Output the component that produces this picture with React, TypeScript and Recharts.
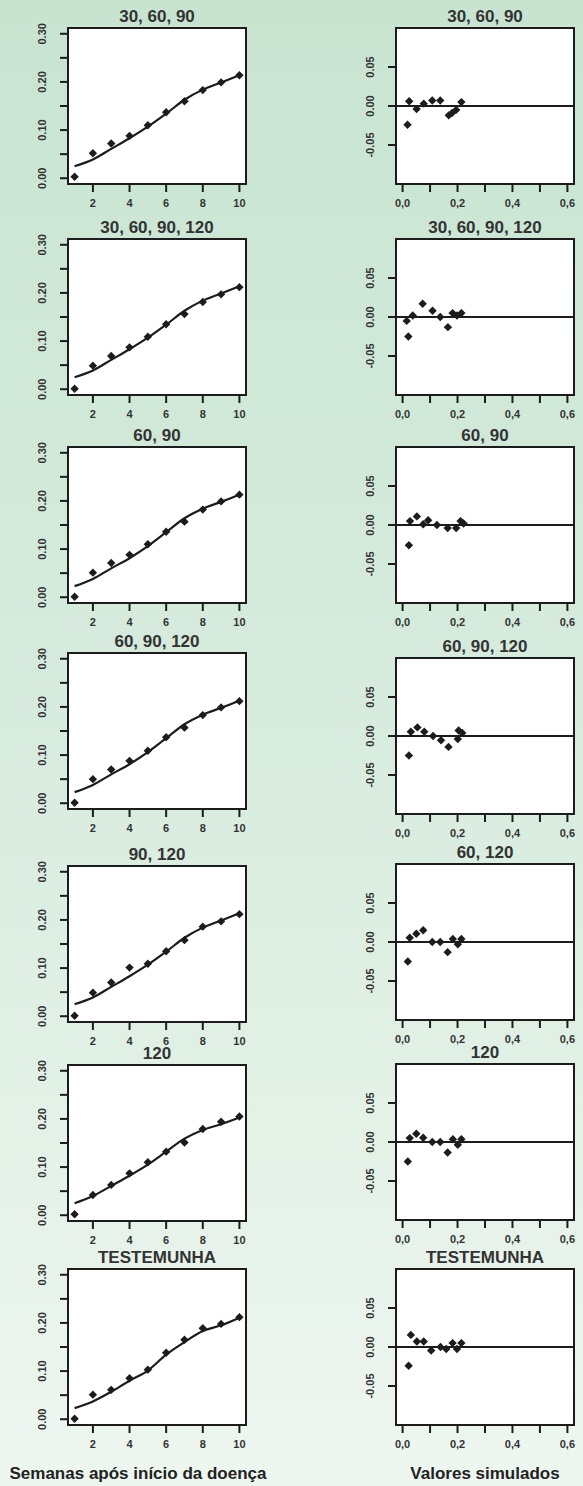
import React from 'react';
import { ComposedChart, Line, Scatter, XAxis, YAxis, ReferenceLine } from 'recharts';

// semanas (eixo x dos graficos da esquerda)
const weeks = [1, 2, 3, 4, 5, 6, 7, 8, 9, 10];

// observados e ajustados por tratamento
const obs_30_60_90 = [0.003, 0.052, 0.072, 0.088, 0.11, 0.137, 0.16, 0.183, 0.199, 0.214];
const obs_30_60_90_120 = [0.001, 0.049, 0.069, 0.087, 0.109, 0.135, 0.156, 0.181, 0.197, 0.212];
const obs_60_90 = [0.001, 0.051, 0.071, 0.088, 0.11, 0.136, 0.157, 0.182, 0.199, 0.213];
const obs_60_90_120 = [0.001, 0.05, 0.07, 0.088, 0.109, 0.137, 0.157, 0.183, 0.199, 0.212];
const obs_90_120 = [0.001, 0.049, 0.07, 0.101, 0.109, 0.135, 0.158, 0.186, 0.197, 0.212];
const obs_120 = [0.002, 0.042, 0.063, 0.087, 0.11, 0.132, 0.151, 0.179, 0.194, 0.205];
const obs_test = [0.001, 0.051, 0.061, 0.085, 0.103, 0.138, 0.165, 0.189, 0.198, 0.212];

const fit_a = [0.025, 0.039, 0.061, 0.083, 0.107, 0.134, 0.163, 0.184, 0.199, 0.214];
const fit_b = [0.023, 0.038, 0.06, 0.081, 0.106, 0.135, 0.164, 0.184, 0.198, 0.213];
const fit_120 = [0.025, 0.04, 0.061, 0.082, 0.105, 0.132, 0.159, 0.177, 0.189, 0.203];
const fit_test = [0.023, 0.037, 0.057, 0.08, 0.101, 0.134, 0.16, 0.183, 0.195, 0.211];

// residuos: valores simulados (x) e residuo (y)
const simX_30_60_90 = [0.018, 0.024, 0.051, 0.077, 0.108, 0.137, 0.168, 0.18, 0.195, 0.214];
const resY_30_60_90 = [-0.024, 0.006, -0.004, 0.003, 0.007, 0.007, -0.012, -0.009, -0.005, 0.005];
const simX_30_60_90_120 = [0.015, 0.021, 0.037, 0.073, 0.109, 0.137, 0.165, 0.182, 0.198, 0.214];
const resY_30_60_90_120 = [-0.005, -0.025, 0.002, 0.017, 0.008, 0.0, -0.013, 0.005, 0.002, 0.005];
const simX_60_90 = [0.023, 0.027, 0.052, 0.075, 0.093, 0.125, 0.164, 0.195, 0.211, 0.222];
const resY_60_90 = [-0.026, 0.005, 0.011, 0.001, 0.006, 0.0, -0.004, -0.004, 0.005, 0.002];
const simX_60_90_120 = [0.023, 0.03, 0.054, 0.079, 0.111, 0.14, 0.167, 0.201, 0.204, 0.217];
const resY_60_90_120 = [-0.025, 0.0055, 0.011, 0.0055, 0.0, -0.0055, -0.014, -0.004, 0.007, 0.004];
const simX_60_120 = [0.019, 0.026, 0.05, 0.075, 0.108, 0.137, 0.164, 0.183, 0.201, 0.214];
const resY_60_120 = [-0.025, 0.0055, 0.0105, 0.015, 0.0, 0.0, -0.013, 0.004, -0.003, 0.004];
const simX_120 = [0.019, 0.026, 0.05, 0.075, 0.108, 0.137, 0.164, 0.183, 0.201, 0.214];
const resY_120 = [-0.025, 0.005, 0.0105, 0.0055, 0.0, 0.0, -0.0135, 0.0035, -0.0035, 0.0035];
const simX_test = [0.022, 0.03, 0.052, 0.077, 0.104, 0.138, 0.159, 0.182, 0.198, 0.214];
const resY_test = [-0.024, 0.0155, 0.007, 0.007, -0.0045, 0.0, -0.0025, 0.005, -0.0025, 0.005];

const leftTicksX = [2, 4, 6, 8, 10];
const leftTicksY = [0, 0.05, 0.1, 0.15, 0.2, 0.25, 0.3];
const rightTicksX = [0, 0.1, 0.2, 0.3, 0.4, 0.5, 0.6];
const rightTicksY = [-0.05, 0, 0.05];

const INK = '#1c1c1c';
const TXT = '#333333';
const FONT = '"Liberation Sans", Arial, sans-serif';
const BOX_W = 178;
const BOX_H = 156;
const YW = 40;
const MT = 28;
const XH = 30;

const pts = (xs: number[], ys: number[]) => xs.map((x, i) => ({ x, y: ys[i] }));

const Diamond = (p: any) => {
  const { cx, cy } = p;
  if (cx == null || cy == null) return <g />;
  const r = 4.2;
  return <path d={`M${cx},${cy - r}L${cx + r},${cy}L${cx},${cy + r}L${cx - r},${cy}Z`} fill={INK} />;
};

const makeYTick = (labelled: (v: number) => boolean) => (p: any) => {
  const v = p.payload.value;
  if (!labelled(v)) return <g />;
  const x = YW - 22;
  return (
    <text
      x={x}
      y={p.y}
      transform={`rotate(-90 ${x} ${p.y})`}
      textAnchor="middle"
      fontSize={11}
      fontWeight="bold"
      fill={TXT}
      fontFamily={FONT}
    >
      {v.toFixed(2)}
    </text>
  );
};

const leftYTick = makeYTick(v => Math.round(v * 100) % 10 === 0);
const rightYTick = makeYTick(() => true);

interface PanelProps {
  title: string;
  left: number;
  top: number;
  kind: 'fit' | 'res';
  obs?: number[];
  fit?: number[];
  sx?: number[];
  sy?: number[];
}

function Panel({ title, left, top, kind, obs, fit, sx, sy }: PanelProps) {
  const tickLine = { stroke: INK, strokeWidth: 2 };
  const tickStyle = { fontSize: 11, fontWeight: 'bold' as const, fill: TXT, fontFamily: FONT };
  return (
    <>
      <div
        style={{
          position: 'absolute',
          left: left,
          top: top - 20,
          width: BOX_W,
          textAlign: 'center',
          font: `bold 17px/17px ${FONT}`,
          color: TXT,
          whiteSpace: 'nowrap',
        }}
      >
        {title}
      </div>
      <div
        style={{
          position: 'absolute',
          left: left - 1.25,
          top: top - 1.25,
          width: BOX_W + 2.5,
          height: BOX_H + 2.5,
          boxSizing: 'border-box',
          border: `2.5px solid ${INK}`,
          background: '#ffffff',
        }}
      />
      <div style={{ position: 'absolute', left: left - YW, top: top - MT }}>
        {kind === 'fit' ? (
          <ComposedChart
            width={YW + BOX_W + 6}
            height={MT + BOX_H + XH}
            margin={{ top: MT, right: 6, bottom: 0, left: 0 }}
          >
            <XAxis
              type="number"
              dataKey="x"
              domain={[0.64, 10.36]}
              ticks={leftTicksX}
              axisLine={false}
              tickLine={tickLine}
              tickSize={8}
              tickMargin={7}
              tick={tickStyle}
              height={XH}
              allowDataOverflow
            />
            <YAxis
              type="number"
              dataKey="y"
              domain={[-0.012, 0.312]}
              ticks={leftTicksY}
              axisLine={false}
              tickLine={tickLine}
              tickSize={8}
              tick={leftYTick}
              width={YW}
              allowDataOverflow
            />
            <Line
              data={pts(weeks, fit || [])}
              dataKey="y"
              type="monotone"
              stroke={INK}
              strokeWidth={2.2}
              dot={false}
              isAnimationActive={false}
            />
            <Scatter data={pts(weeks, obs || [])} dataKey="y" shape={Diamond} isAnimationActive={false} />
          </ComposedChart>
        ) : (
          <ComposedChart
            width={YW + BOX_W + 6}
            height={MT + BOX_H + XH}
            margin={{ top: MT, right: 6, bottom: 0, left: 0 }}
          >
            <XAxis
              type="number"
              dataKey="x"
              domain={[-0.024, 0.624]}
              ticks={rightTicksX}
              tickFormatter={(v: number) =>
                Math.round(v * 10) % 2 === 0 ? v.toFixed(1).replace('.', ',') : ''
              }
              axisLine={false}
              tickLine={tickLine}
              tickSize={8}
              tickMargin={7}
              tick={tickStyle}
              height={XH}
              interval={0}
              allowDataOverflow
            />
            <YAxis
              type="number"
              dataKey="y"
              domain={[-0.1, 0.1]}
              ticks={rightTicksY}
              axisLine={false}
              tickLine={tickLine}
              tickSize={8}
              tick={rightYTick}
              width={YW}
              allowDataOverflow
            />
            <ReferenceLine y={0} stroke={INK} strokeWidth={2.2} />
            <Scatter data={pts(sx || [], sy || [])} dataKey="y" shape={Diamond} isAnimationActive={false} />
          </ComposedChart>
        )}
      </div>
    </>
  );
}

const L = 68;
const R = 396;

export default function App() {
  return (
    <div
      style={{
        position: 'absolute',
        left: 0,
        top: 0,
        width: 583,
        height: 1486,
        overflow: 'hidden',
        background: 'linear-gradient(180deg, #c8e4d1 0%, #d6ebdd 45%, #e3f1e7 75%, #eef6f0 100%)',
        fontFamily: FONT,
      }}
    >
      <Panel title="30, 60, 90" left={L} top={28} kind="fit" obs={obs_30_60_90} fit={fit_a} />
      <Panel title="30, 60, 90" left={R} top={28} kind="res" sx={simX_30_60_90} sy={resY_30_60_90} />

      <Panel title="30, 60, 90, 120" left={L} top={239} kind="fit" obs={obs_30_60_90_120} fit={fit_a} />
      <Panel title="30, 60, 90, 120" left={R} top={239} kind="res" sx={simX_30_60_90_120} sy={resY_30_60_90_120} />

      <Panel title="60, 90" left={L} top={447} kind="fit" obs={obs_60_90} fit={fit_b} />
      <Panel title="60, 90" left={R} top={447} kind="res" sx={simX_60_90} sy={resY_60_90} />

      <Panel title="60, 90, 120" left={L} top={653} kind="fit" obs={obs_60_90_120} fit={fit_b} />
      <Panel title="60, 90, 120" left={R} top={658} kind="res" sx={simX_60_90_120} sy={resY_60_90_120} />

      <Panel title="90, 120" left={L} top={866} kind="fit" obs={obs_90_120} fit={fit_a} />
      <Panel title="60, 120" left={R} top={864} kind="res" sx={simX_60_120} sy={resY_60_120} />

      <Panel title="120" left={L} top={1065} kind="fit" obs={obs_120} fit={fit_120} />
      <Panel title="120" left={R} top={1064} kind="res" sx={simX_120} sy={resY_120} />

      <Panel title="TESTEMUNHA" left={L} top={1269} kind="fit" obs={obs_test} fit={fit_test} />
      <Panel title="TESTEMUNHA" left={R} top={1269} kind="res" sx={simX_test} sy={resY_test} />

      <div
        style={{
          position: 'absolute',
          left: 0,
          width: 276,
          top: 1465,
          textAlign: 'center',
          font: `bold 17px/17px ${FONT}`,
          color: '#222',
          whiteSpace: 'nowrap',
        }}
      >
        Semanas após início da doença
      </div>
      <div
        style={{
          position: 'absolute',
          left: R,
          width: BOX_W,
          top: 1465,
          textAlign: 'center',
          font: `bold 17px/17px ${FONT}`,
          color: '#222',
          whiteSpace: 'nowrap',
        }}
      >
        Valores simulados
      </div>
    </div>
  );
}
